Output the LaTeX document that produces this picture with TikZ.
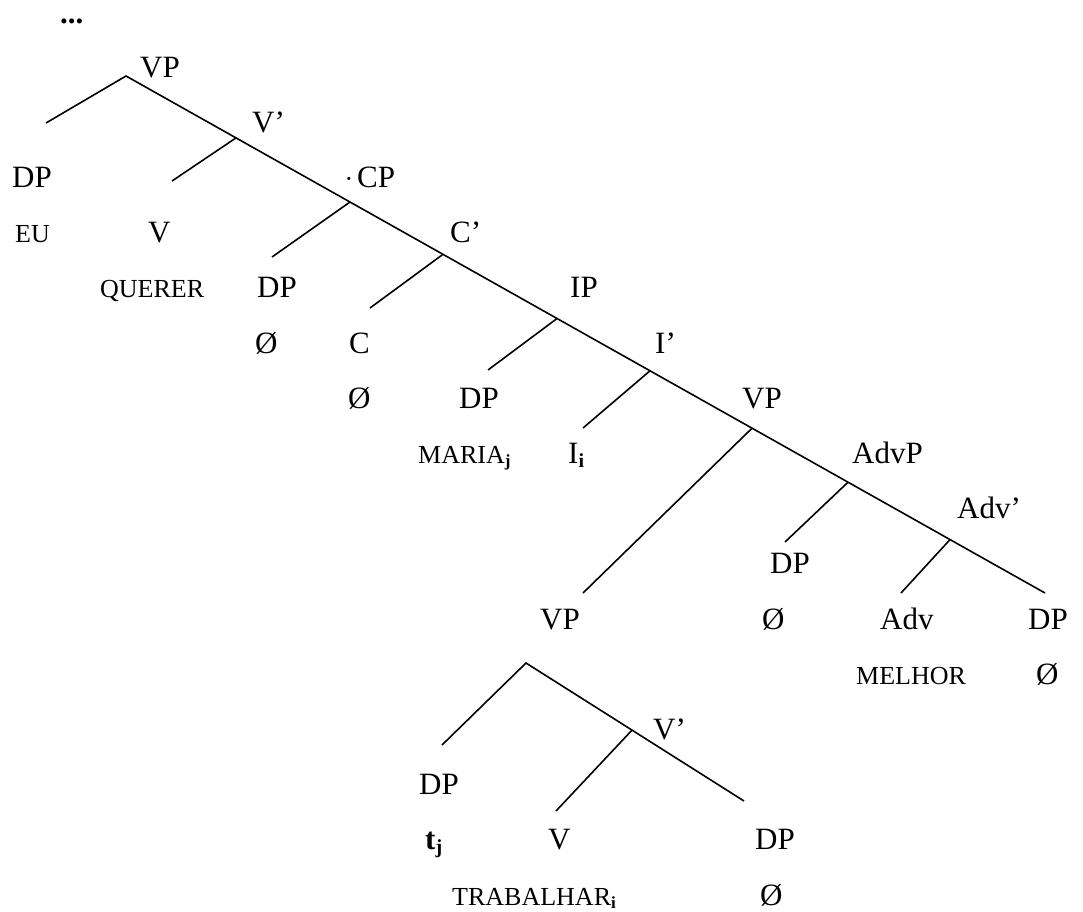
\documentclass[tikz,border=0pt]{standalone}
\usepackage{fontspec}
\setmainfont{Liberation Serif}
\newcommand\bigsub[1]{\raisebox{-4pt}{\fontsize{20}{20}\selectfont\bfseries #1}}
\newcommand\smlsub[1]{\raisebox{-3pt}{\fontsize{17}{17}\selectfont\bfseries #1}}
\begin{document}
\begin{tikzpicture}[x=1pt,y=-1pt,
  lab/.style={inner sep=0pt, anchor=base west, font=\fontsize{31}{36}\selectfont},
  sml/.style={lab, font=\fontsize{26}{30}\selectfont},
  branch/.style={line width=1.6pt, line cap=butt, line join=miter}]
\useasboundingbox (0,0) rectangle (1083,911);
% junctions and ends
\coordinate (jVP) at (126,76);
\coordinate (eMain) at (1045,593);
\coordinate (eDPa) at (46,123);
\coordinate (jVb) at (236,137.9);
\coordinate (eVb) at (172,181);
\coordinate (jCP) at (350,202.0);
\coordinate (eCP) at (272,257);
\coordinate (jCb) at (443,254.3);
\coordinate (eCb) at (370,308);
\coordinate (jIP) at (557,318.5);
\coordinate (eIP) at (488,370);
\coordinate (jIb) at (650,370.8);
\coordinate (eIb) at (583,428);
\coordinate (jVPb) at (752,428.2);
\coordinate (eVPb) at (583,593);
\coordinate (jAdvP) at (848,482.2);
\coordinate (eAdvP) at (785,542);
\coordinate (jAdvb) at (950,539.6);
\coordinate (eAdvb) at (901,593);
% lower tree
\coordinate (jLow) at (526,663);
\coordinate (eLowL) at (442,745);
\coordinate (eLowR) at (744,801);
\coordinate (jLowV) at (632,730.1);
\coordinate (eLowV) at (556,811);
% branches
\draw[branch] (eDPa) -- (jVP) -- (eMain);
\draw[branch] (jVb) -- (eVb);
\draw[branch] (jCP) -- (eCP);
\draw[branch] (jCb) -- (eCb);
\draw[branch] (jIP) -- (eIP);
\draw[branch] (jIb) -- (eIb);
\draw[branch] (jVPb) -- (eVPb);
\draw[branch] (jAdvP) -- (eAdvP);
\draw[branch] (jAdvb) -- (eAdvb);
\draw[branch] (eLowL) -- (jLow) -- (eLowR);
\draw[branch] (jLowV) -- (eLowV);
% labels
\node[lab] (dots) at (60,23) {\textbf{...}};
\node[lab] (lVP) at (140,77) {VP};
\node[lab] (lVb) at (252,132.2) {V’};
\node[lab] (lDPa) at (12,187.4) {DP};
\node[sml, anchor=base] (ldot) at (349,187.4) {·};
\node[lab] (lCP) at (357,187.4) {CP};
\node[sml] (lEU) at (15,242.6) {EU};
\node[lab] (lV) at (148,242.6) {V};
\node[lab] (lCb) at (450,242.6) {C’};
\node[sml] (lQ) at (100,297.8) {QUERER};
\node[lab] (lDPb) at (257,297.8) {DP};
\node[lab] (lIP) at (570,297.8) {IP};
\node[lab] (lOa) at (255,353) {Ø};
\node[lab] (lC) at (349,353) {C};
\node[lab] (lIb) at (655,353) {I’};
\node[lab] (lOb) at (348,408.2) {Ø};
\node[lab] (lDPc) at (459,408.2) {DP};
\node[lab] (lVPb) at (742,408.2) {VP};
\node[sml] (lMaria) at (418,463.4) {MARIA\smlsub{j}};
\node[lab] (lI) at (568,463.4) {I\bigsub{i}};
\node[lab] (lAdvP) at (852,463.4) {AdvP};
\node[lab] (lAdvb) at (957,518.6) {Adv’};
\node[lab] (lDPd) at (770,573.8) {DP};
\node[lab] (lVPc) at (540,629) {VP};
\node[lab] (lOc) at (762,629) {Ø};
\node[lab] (lAdv) at (880,629) {Adv};
\node[lab] (lDPe) at (1028,629) {DP};
\node[sml] (lMelhor) at (856,684.2) {MELHOR};
\node[lab] (lOd) at (1036,684.2) {Ø};
\node[lab] (lVc) at (653,739.4) {V’};
\node[lab] (lDPf) at (419,794.6) {DP};
\node[lab] (lt) at (425,849.8) {\textbf{t}\bigsub{j}};
\node[lab] (lVd) at (548,849.8) {V};
\node[lab] (lDPg) at (755,849.8) {DP};
\node[sml] (lTrab) at (452,905) {TRABALHAR\smlsub{i}};
\node[lab] (lOe) at (760,905) {Ø};
\end{tikzpicture}
\end{document}
